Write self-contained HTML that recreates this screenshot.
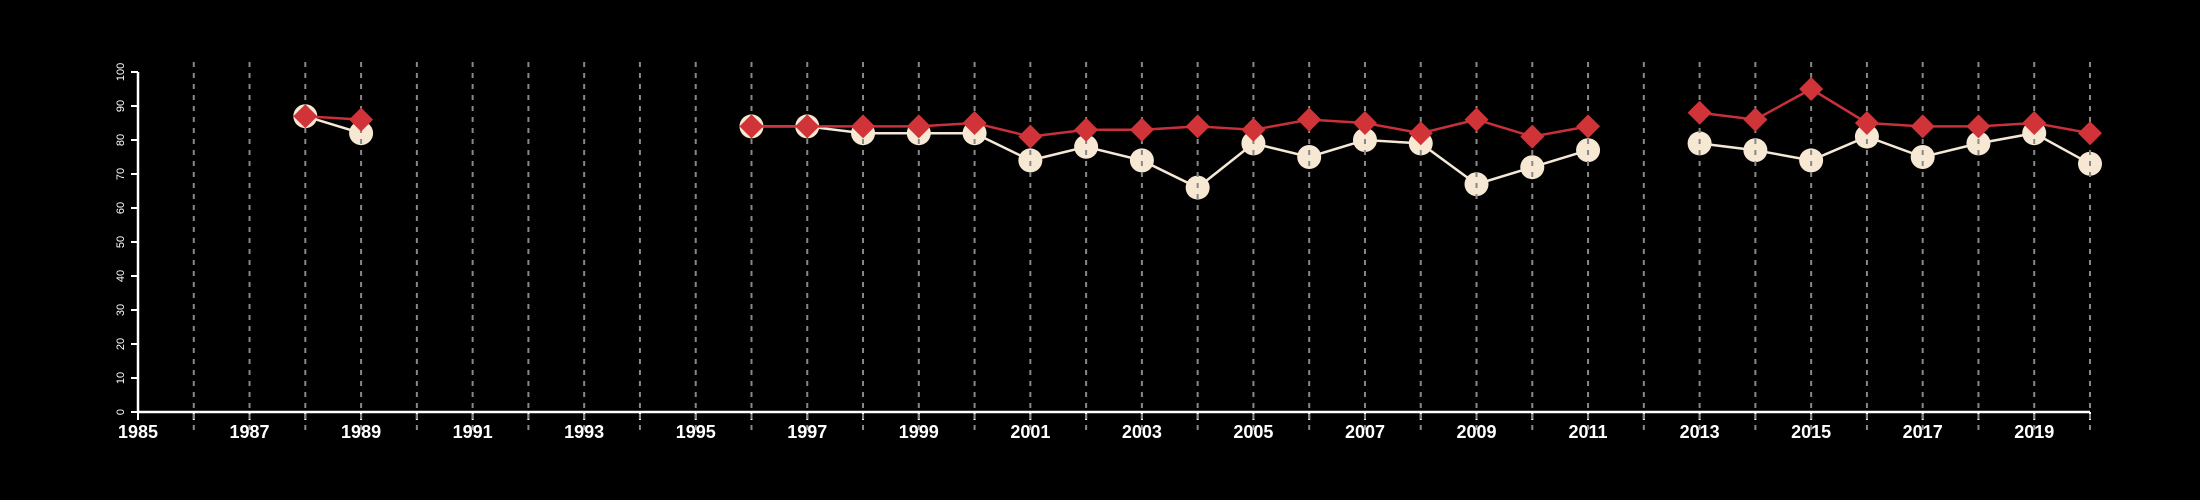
<!DOCTYPE html>
<html><head><meta charset="utf-8"><style>
html,body{margin:0;padding:0;background:#000;}
svg{display:block;}
</style></head><body>
<svg id="chart" width="2200" height="500" viewBox="0 0 2200 500" xmlns="http://www.w3.org/2000/svg" style="background:#000">
<g id="axes"></g>
<g id="white-series"></g>
<g id="grid"></g>
<g id="red-series"></g>
</svg>
<script>
const years = [1988,1989,1990,1991,1992,1993,1994,1995,1996,1997,1998,1999,2000,2001,2002,2003,2004,2005,2006,2007,2008,2009,2010,2011,2012,2013,2014,2015,2016,2017,2018,2019,2020];
const whiteValues = [87,82,null,null,null,null,null,null,84,84,82,82,82,74,78,74,66,79,75,80,79,67,72,77,null,79,77,74,81,75,79,82,73];
const redValues = [87,86,null,null,null,null,null,null,84,84,84,84,85,81,83,83,84,83,86,85,82,86,81,84,null,88,86,95,85,84,84,85,82];
const yTicks = [0,10,20,30,40,50,60,70,80,90,100];
const xLabelYears = [1985,1987,1989,1991,1993,1995,1997,1999,2001,2003,2005,2007,2009,2011,2013,2015,2017,2019];

const NS = "http://www.w3.org/2000/svg";
const X0 = 138, X1 = 2090, Y0 = 412, Y1 = 72;
const xMin = 1985, xMax = 2020;
function xs(v){ return X0 + (v - xMin) / (xMax - xMin) * (X1 - X0); }
function ys(v){ return Y0 - v / 100 * (Y0 - Y1); }
function mk(tag, attrs, parent){
  const e = document.createElementNS(NS, tag);
  for (const k in attrs) e.setAttribute(k, attrs[k]);
  parent.appendChild(e);
  return e;
}
const axes = document.getElementById('axes');
const grid = document.getElementById('grid');
const ws = document.getElementById('white-series');
const rs = document.getElementById('red-series');

// axis lines
let a = mk('line', {x1:X0, y1:Y0, x2:X1, y2:Y0, stroke:'#fff', 'stroke-width':2.5}, axes);


a = mk('line', {x1:X0, y1:Y0, x2:X0, y2:Y1, stroke:'#fff', 'stroke-width':2.5}, axes);



yTicks.forEach(t => {
  const y = ys(t);
  const tk = mk('line', {x1:X0-7, y1:y, x2:X0, y2:y, stroke:'#fff', 'stroke-width':2}, axes);
  
  
  const tx = mk('text', {x:0, y:0, fill:'#fff', 'font-size':11, 'font-family':'Liberation Sans, sans-serif', 'text-anchor':'middle', transform:`translate(${X0-17},${y}) rotate(-90)`, 'dominant-baseline':'central'}, axes);
  tx.textContent = t;
  
  
});

for (let yr = xMin; yr <= xMax; yr++) {
  const x = xs(yr);
  const tk = mk('line', {x1:x, y1:Y0, x2:x, y2:Y0+8, stroke:'#fff', 'stroke-width':2}, axes);
  
  
  if (yr > xMin) {
    const g = mk('line', {x1:x, y1:Y1-10, x2:x, y2:Y0+18, stroke:'#888', 'stroke-width':2, 'stroke-dasharray':'5,6'}, grid);
    
    
  }
}
xLabelYears.forEach(yr => {
  const tx = mk('text', {x:xs(yr), y:438, fill:'#fff', 'font-size':18, 'font-weight':'bold', 'font-family':'Liberation Sans, sans-serif', 'text-anchor':'middle'}, axes);
  tx.textContent = yr;
  
  
});

function segs(vals){
  const out = []; let cur = [];
  vals.forEach((v,i) => {
    if (v === null) { if (cur.length) out.push(cur); cur = []; }
    else cur.push([xs(years[i]), ys(v)]);
  });
  if (cur.length) out.push(cur);
  return out;
}
segs(whiteValues).forEach(s => {
  const p = mk('polyline', {points:s.map(q=>q.join(',')).join(' '), fill:'none', stroke:'#f5e8d6', 'stroke-width':2.5}, ws);
  
  
});
whiteValues.forEach((v,i) => {
  if (v === null) return;
  const c = mk('circle', {cx:xs(years[i]), cy:ys(v), r:12, fill:'#f7e8d4'}, ws);
  
  
});
segs(redValues).forEach(s => {
  const p = mk('polyline', {points:s.map(q=>q.join(',')).join(' '), fill:'none', stroke:'#c8303a', 'stroke-width':2.5}, rs);
  
  
});
redValues.forEach((v,i) => {
  if (v === null) return;
  const x = xs(years[i]), y = ys(v), d = 12;
  const p = mk('polygon', {points:`${x},${y-d} ${x+d},${y} ${x},${y+d} ${x-d},${y}`, fill:'#d13438'}, rs);
  
  
});
</script>
</body></html>
